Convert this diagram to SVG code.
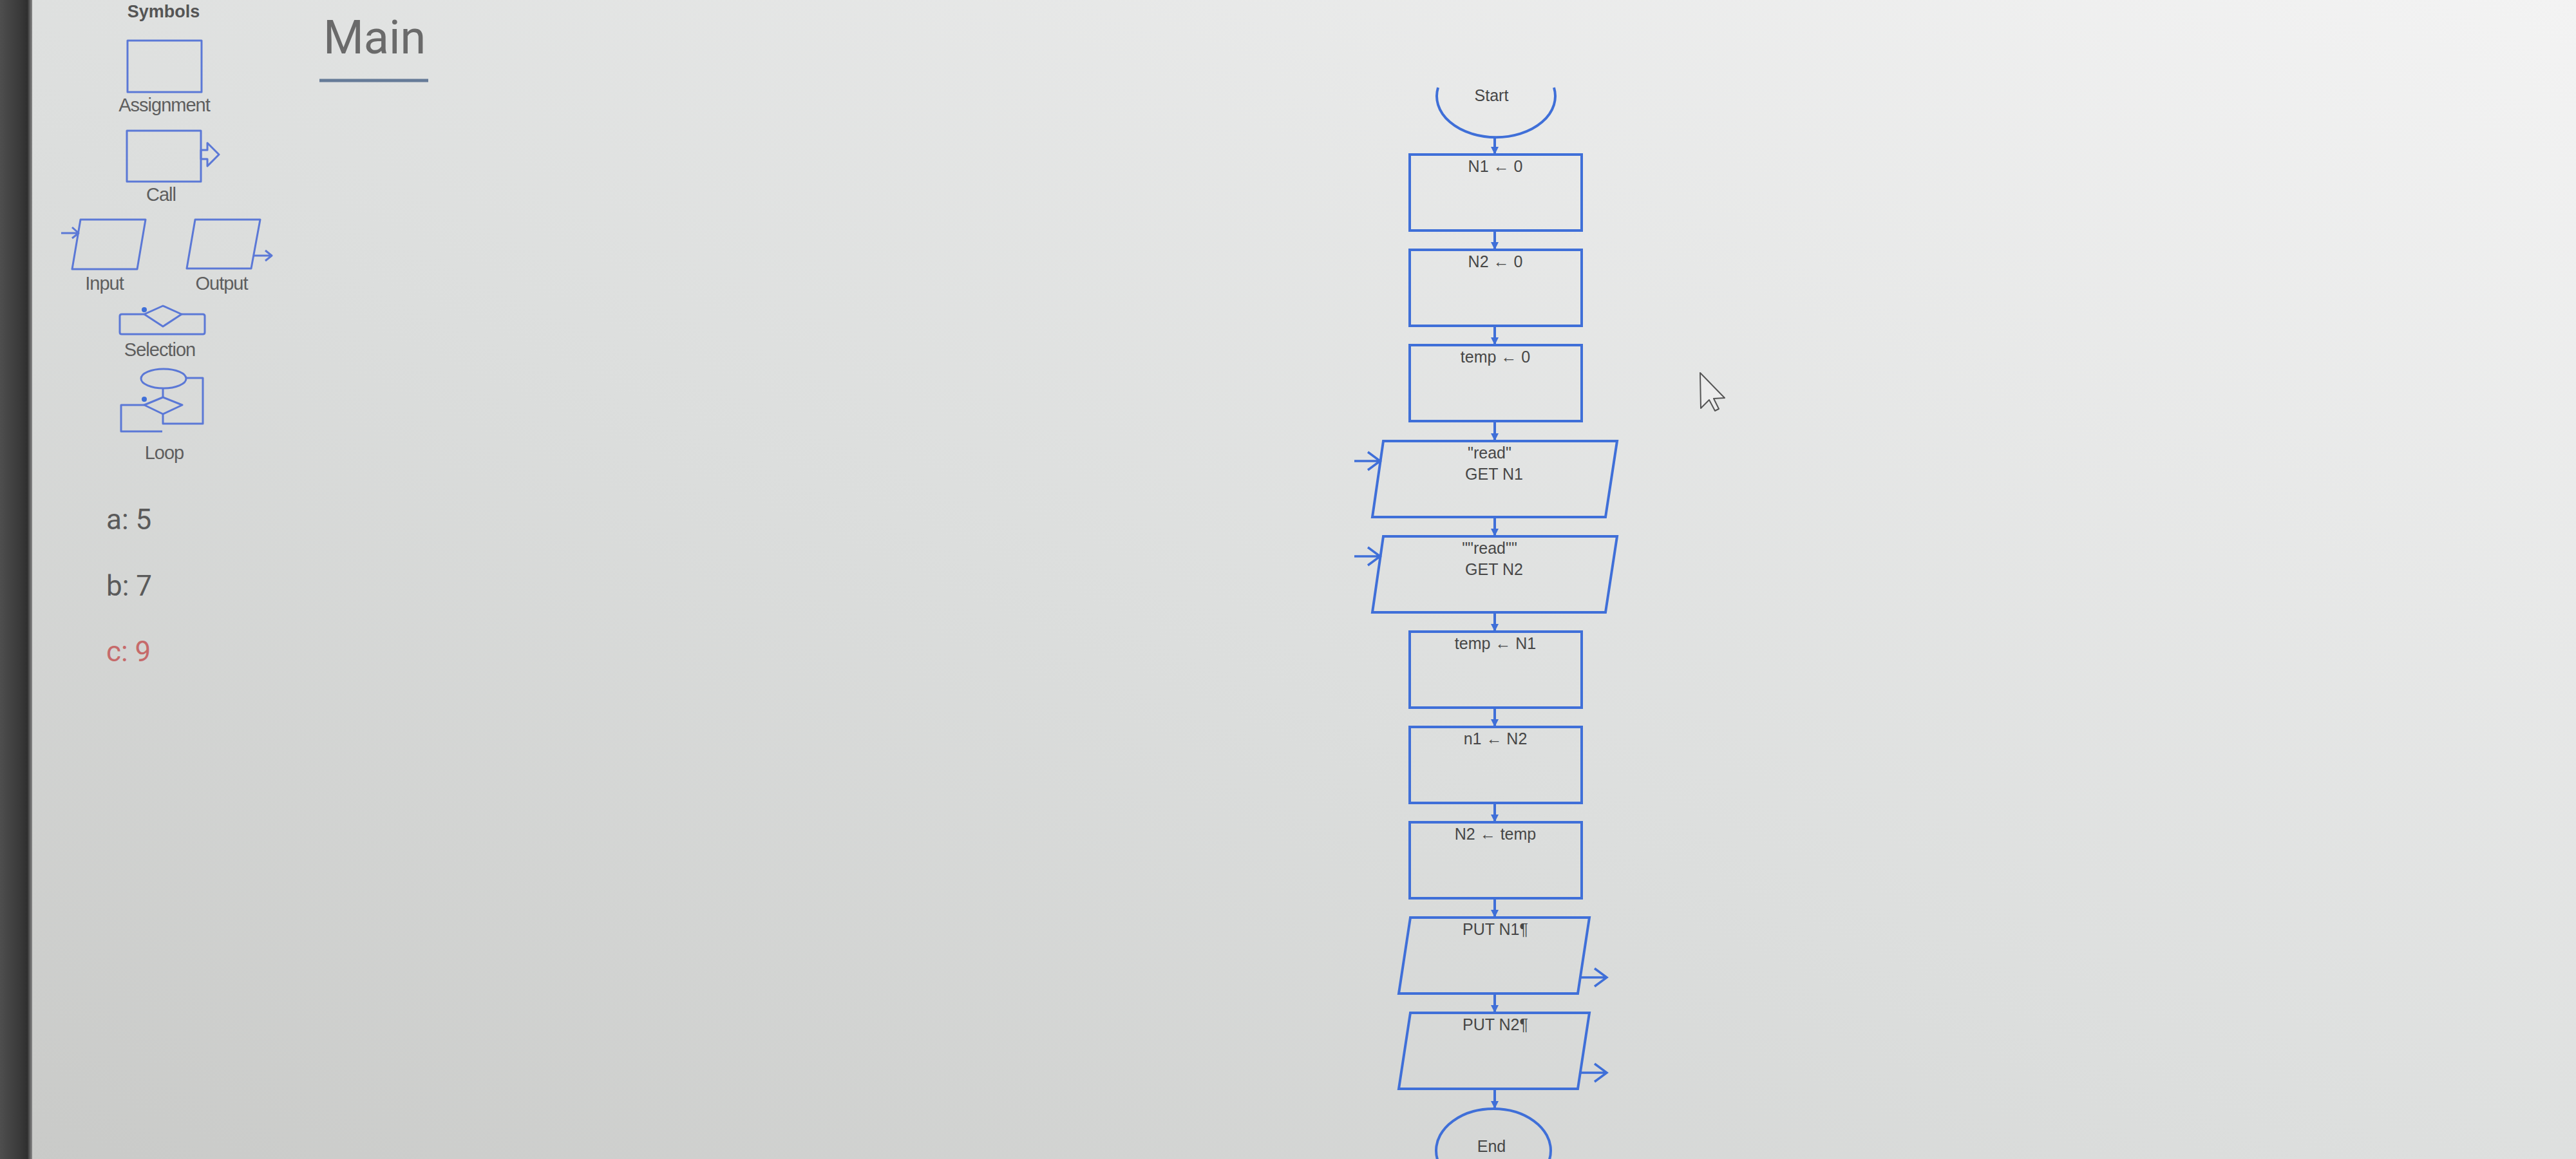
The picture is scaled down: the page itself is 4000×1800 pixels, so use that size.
<svg xmlns="http://www.w3.org/2000/svg" width="4000" height="1800" viewBox="0 0 4000 1800">
<defs>
<linearGradient id="bg" x1="0" y1="1" x2="1" y2="0">
<stop offset="0" stop-color="#c9cac8"/>
<stop offset="0.45" stop-color="#dcdedd"/>
<stop offset="1" stop-color="#f3f3f3"/>
</linearGradient>
<linearGradient id="bar" x1="0" y1="0" x2="1" y2="0">
<stop offset="0" stop-color="#4e4e4e"/>
<stop offset="0.6" stop-color="#3a3a3a"/>
<stop offset="0.85" stop-color="#2f2f2f"/>
<stop offset="1" stop-color="#8a8a8a"/>
</linearGradient>
<marker id="tip" viewBox="0 0 10 10" refX="10" refY="5" markerWidth="3" markerHeight="3" orient="auto" markerUnits="strokeWidth">
<path d="M0,0 L10,5 L0,10 Z" fill="#3f6fd8"/>
</marker>
<style>
.fc{fill:none;stroke:#3f6fd8;stroke-width:4;stroke-linejoin:miter}
.ic{fill:none;stroke:#5b78d6;stroke-width:3;stroke-linejoin:round}
.t{font-family:"Liberation Sans",Arial,sans-serif;font-size:25px;fill:#474747;text-anchor:middle}
.lbl{font-family:"Liberation Sans",Arial,sans-serif;font-size:29px;fill:#5e5e5e;text-anchor:middle;letter-spacing:-1px}
.var{font-family:Roboto,"Liberation Sans",sans-serif;font-size:44px;fill:#5a5a5a}
.var.red{fill:#c66a6a}
.con{fill:none;stroke:#3f6fd8;stroke-width:4}
.io{fill:none;stroke:#3f6fd8;stroke-width:3.5}
</style>
</defs>
<rect x="0" y="0" width="4000" height="1800" fill="url(#bg)"/>
<rect x="0" y="0" width="50" height="1800" fill="url(#bar)"/>

<g id="palette">
<text x="254" y="27" font-family="Liberation Sans,Arial,sans-serif" font-size="27" font-weight="bold" fill="#555" text-anchor="middle">Symbols</text>
<g id="sym-assignment">
<rect class="ic" x="198" y="63" width="115" height="80"/>
<text class="lbl" x="255" y="173">Assignment</text>
</g>
<g id="sym-call">
<rect class="ic" x="197" y="203" width="115" height="79"/>
<polygon class="ic" points="312,233 322,233 322,222 340,240 322,258 322,247 312,247"/>
<text class="lbl" x="250" y="312">Call</text>
</g>
<g id="sym-input">
<polygon class="ic" points="125,341 226,341 213,418 112,418"/>
<path class="ic" d="M95,362 L122,362 M112,353 L122,362 L112,370"/>
<text class="lbl" x="162" y="450">Input</text>
</g>
<g id="sym-output">
<polygon class="ic" points="303,341 404,341 390,417 290,417"/>
<path class="ic" d="M393,397 L422,397 M412,389 L422,397 L412,405"/>
<text class="lbl" x="344" y="450">Output</text>
</g>
<g id="sym-selection">
<path class="ic" d="M224,488 L189,488 Q186,488 186,491 L186,516 Q186,519 189,519 L315,519 Q318,519 318,516 L318,491 Q318,488 315,488 L282,488"/>
<polygon class="ic" points="224,488 253,475 282,488 253,507"/>
<circle cx="224" cy="481" r="4" fill="#3f6fd8"/>
<text class="lbl" x="248" y="553">Selection</text>
</g>
<g id="sym-loop">
<ellipse class="ic" cx="254" cy="588" rx="35" ry="15"/>
<path class="ic" d="M289,587 L315,587 L315,658 L253,658 L253,643"/>
<path class="ic" d="M253,603 L253,617"/>
<polygon class="ic" points="224,629 253,617 283,629 253,643"/>
<path class="ic" d="M224,629 L188,629 L188,670 L252,670"/>
<circle cx="224" cy="620" r="4" fill="#3f6fd8"/>
<text class="lbl" x="255" y="713">Loop</text>
</g>
</g>

<g id="variables">
<text class="var" x="165" y="822">a: 5</text>
<text class="var" x="165" y="925">b: 7</text>
<text class="var red" x="165" y="1027">c: 9</text>
</g>

<g id="title">
<text x="502" y="83" font-family="Roboto,'Liberation Sans',sans-serif" font-size="72" fill="#6a6a6a">Main</text>
<line x1="496" y1="125" x2="665" y2="125" stroke="#667b98" stroke-width="5"/>
</g>

<g id="connectors">
<line class="con" x1="2321" y1="212" x2="2321" y2="240" marker-end="url(#tip)"/>
<line class="con" x1="2321" y1="358" x2="2321" y2="388" marker-end="url(#tip)"/>
<line class="con" x1="2321" y1="506" x2="2321" y2="536" marker-end="url(#tip)"/>
<line class="con" x1="2321" y1="654" x2="2321" y2="685" marker-end="url(#tip)"/>
<line class="con" x1="2321" y1="803" x2="2321" y2="833" marker-end="url(#tip)"/>
<line class="con" x1="2321" y1="951" x2="2321" y2="981" marker-end="url(#tip)"/>
<line class="con" x1="2321" y1="1099" x2="2321" y2="1129" marker-end="url(#tip)"/>
<line class="con" x1="2321" y1="1247" x2="2321" y2="1277" marker-end="url(#tip)"/>
<line class="con" x1="2321" y1="1395" x2="2321" y2="1425" marker-end="url(#tip)"/>
<line class="con" x1="2321" y1="1543" x2="2321" y2="1573" marker-end="url(#tip)"/>
<line class="con" x1="2321" y1="1691" x2="2321" y2="1722" marker-end="url(#tip)"/>
</g>

<g id="start">
<path class="fc" d="M2233,136 A92,64 0 1 0 2413,136"/>
<text class="t" x="2316" y="157">Start</text>
</g>
<g id="n1-assign">
<rect class="fc" x="2189" y="240" width="267" height="118"/>
<text class="t" x="2322" y="267">N1 ← 0</text>
</g>
<g id="n2-assign">
<rect class="fc" x="2189" y="388" width="267" height="118"/>
<text class="t" x="2322" y="415">N2 ← 0</text>
</g>
<g id="temp-assign">
<rect class="fc" x="2189" y="536" width="267" height="118"/>
<text class="t" x="2322" y="563">temp ← 0</text>
</g>
<g id="input-n1">
<polygon class="fc" points="2148,685 2511,685 2493,803 2131,803"/>
<path class="io" d="M2103,716 L2143,716 M2124,702 L2143,716 L2124,730"/>
<text class="t" x="2313" y="712">"read"</text>
<text class="t" x="2320" y="745">GET N1</text>
</g>
<g id="input-n2">
<polygon class="fc" points="2148,833 2511,833 2493,951 2131,951"/>
<path class="io" d="M2103,864 L2143,864 M2124,850 L2143,864 L2124,878"/>
<text class="t" x="2313" y="860">""read""</text>
<text class="t" x="2320" y="893">GET N2</text>
</g>
<g id="temp-n1">
<rect class="fc" x="2189" y="981" width="267" height="118"/>
<text class="t" x="2322" y="1008">temp ← N1</text>
</g>
<g id="n1-n2">
<rect class="fc" x="2189" y="1129" width="267" height="118"/>
<text class="t" x="2322" y="1156">n1 ← N2</text>
</g>
<g id="n2-temp">
<rect class="fc" x="2189" y="1277" width="267" height="118"/>
<text class="t" x="2322" y="1304">N2 ← temp</text>
</g>
<g id="output-n1">
<polygon class="fc" points="2190,1425 2468,1425 2450,1543 2172,1543"/>
<path class="io" d="M2454,1518 L2495,1518 M2476,1504 L2495,1518 L2476,1532"/>
<text class="t" x="2322" y="1452">PUT N1¶</text>
</g>
<g id="output-n2">
<polygon class="fc" points="2190,1573 2468,1573 2450,1691 2172,1691"/>
<path class="io" d="M2454,1666 L2495,1666 M2476,1652 L2495,1666 L2476,1680"/>
<text class="t" x="2322" y="1600">PUT N2¶</text>
</g>
<g id="end">
<ellipse class="fc" cx="2319" cy="1787" rx="89" ry="65"/>
<text class="t" x="2316" y="1789">End</text>
</g>

<g id="cursor">
<polygon points="2640,579 2641,634 2654,621 2663,638 2669,635 2661,619 2678,618" fill="#ececec" stroke="#555" stroke-width="2" stroke-linejoin="round"/>
</g>
</svg>
